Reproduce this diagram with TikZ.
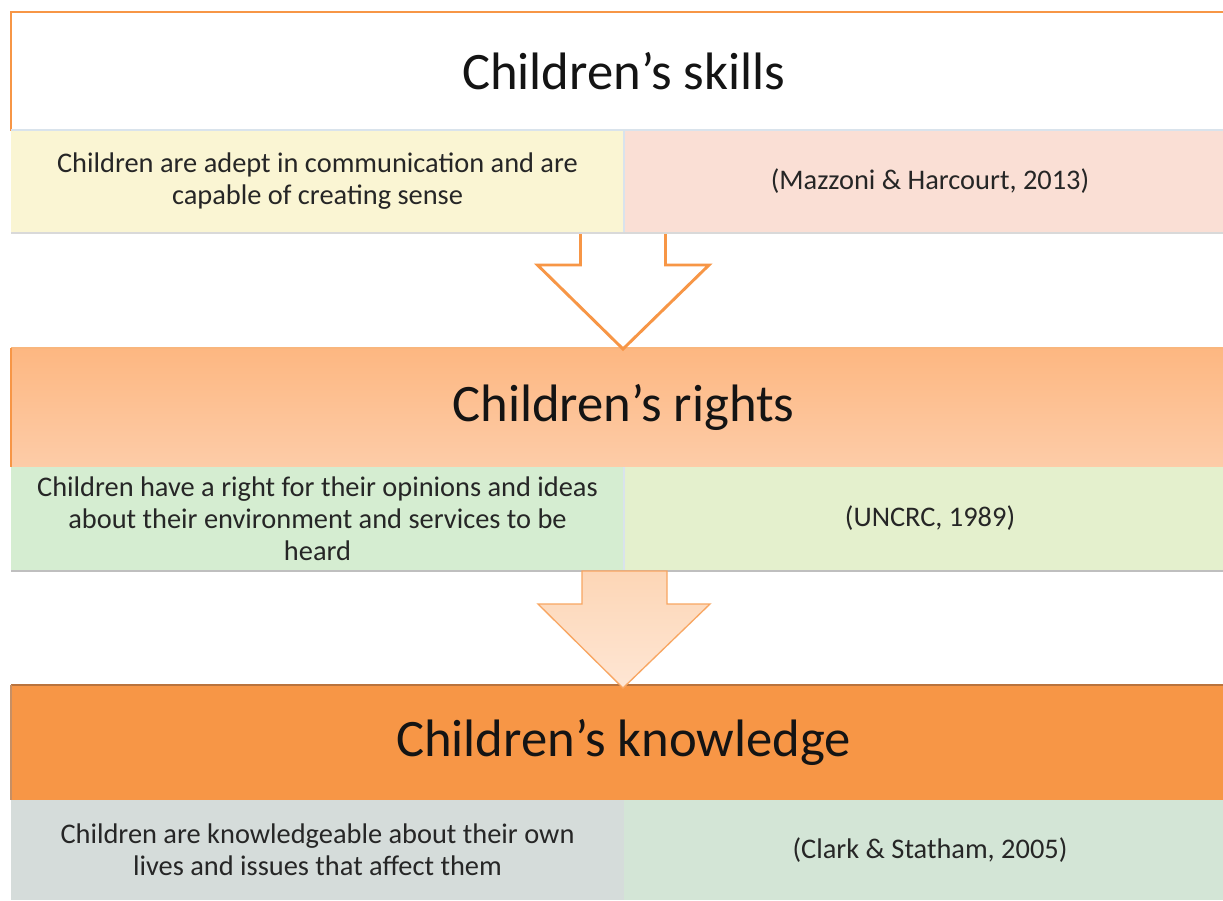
\documentclass[tikz,border=0pt]{standalone}
\usepackage{fontspec}
\setmainfont{Carlito}
\begin{document}
\begin{tikzpicture}[x=0.75pt,y=-0.75pt,
  hdr/.style={rectangle,inner sep=0pt,outer sep=0pt,minimum width=918.75pt,font=\fontsize{39.5}{44}\selectfont,text=black!92},
  cell/.style={rectangle,inner sep=0pt,outer sep=0pt,minimum width=459.75pt,align=center,font=\fontsize{21.3}{24}\selectfont,text=black!85},
  arrowline/.style={line width=2.2pt,draw=orange1,line join=miter}
]
\definecolor{orange1}{HTML}{F79646}
\definecolor{ylw}{HTML}{FAF5D3}
\definecolor{pnk}{HTML}{FADFD5}
\definecolor{grn1}{HTML}{D5EDD1}
\definecolor{grn2}{HTML}{E4F0CD}
\definecolor{gry}{HTML}{D5DCDA}
\definecolor{grn3}{HTML}{D3E5D6}
\definecolor{o2top}{HTML}{FDB781}
\definecolor{o2bot}{HTML}{FDCCA8}
\definecolor{brown1}{HTML}{B9733D}
\definecolor{ltline}{HTML}{D9E3EC}
\definecolor{pch1}{HTML}{FDD6B6}
\definecolor{pch2}{HTML}{FEE6D4}
\useasboundingbox (0,0) rectangle (1223,900);
\fill[white] (0,0) rectangle (1223,900);
\clip (0,0) rectangle (1223,900);

% --- Box 1
\node[hdr,minimum height=88.5pt,fill=white,draw=orange1,line width=1.2pt] (h1) at (623.5,71) {Children’s skills};
\node[cell,minimum height=77.25pt,fill=ylw] (l1) at (317.5,181.5) {Children are adept in communication and are\\capable of creating sense};
\node[cell,minimum height=77.25pt,fill=pnk] (r1) at (930,181.5) {(Mazzoni \& Harcourt, 2013)};
\draw[ltline,line width=1.2pt] (l1.north west) -- (r1.north east);
\draw[ltline,line width=0.8pt] (l1.north east) -- (l1.south east);
\draw[black!15,line width=1pt] (l1.south west) -- (r1.south east);

% --- Box 2
\node[hdr,minimum height=89.25pt,top color=o2top,bottom color=o2bot] (h2) at (623.5,407.5) {Children’s rights};
\draw[orange1!70,line width=1pt] (h2.north west) -- (h2.north east);
\draw[orange1,line width=1pt] (h2.north west) -- (h2.south west);
\node[cell,minimum height=77.25pt,fill=grn1] (l2) at (317.5,518.5) {Children have a right for their opinions and ideas\\about their environment and services to be\\heard};
\node[cell,minimum height=77.25pt,fill=grn2] (r2) at (930,518.5) {(UNCRC, 1989)};
\draw[ltline,line width=1pt] (l2.north east) -- (l2.south east);
\draw[black!25,line width=1.5pt] ([yshift=-1pt]l2.south west) -- ([yshift=-1pt]r2.south east);

% --- Box 3
\node[hdr,minimum height=86.25pt,fill=orange1] (h3) at (623.5,742.5) {Children’s knowledge};
\draw[brown1,line width=2pt] (h3.north west) -- (h3.north east);
\draw[brown1!80,line width=1pt] (h3.north west) -- (h3.south west);
\node[cell,minimum height=75pt,fill=gry] (l3) at (317.5,850) {Children are knowledgeable about their own\\lives and issues that affect them};
\node[cell,minimum height=75pt,fill=grn3] (r3) at (930,850) {(Clark \& Statham, 2005)};

% --- Arrow 1 (outline)
\draw[arrowline,fill=white] (580.5,234) -- (580.5,265) -- (537.5,265) -- (623,349) -- (709,265) -- (665.5,265) -- (665.5,234);

% --- Arrow 2 (filled)
\shade[top color=pch1,bottom color=pch2,draw=orange1!85,line width=1pt] (582,571) -- (582,604) -- (538,604) -- (623,688) -- (710,604) -- (667,604) -- (667,571) -- cycle;
\end{tikzpicture}
\end{document}
